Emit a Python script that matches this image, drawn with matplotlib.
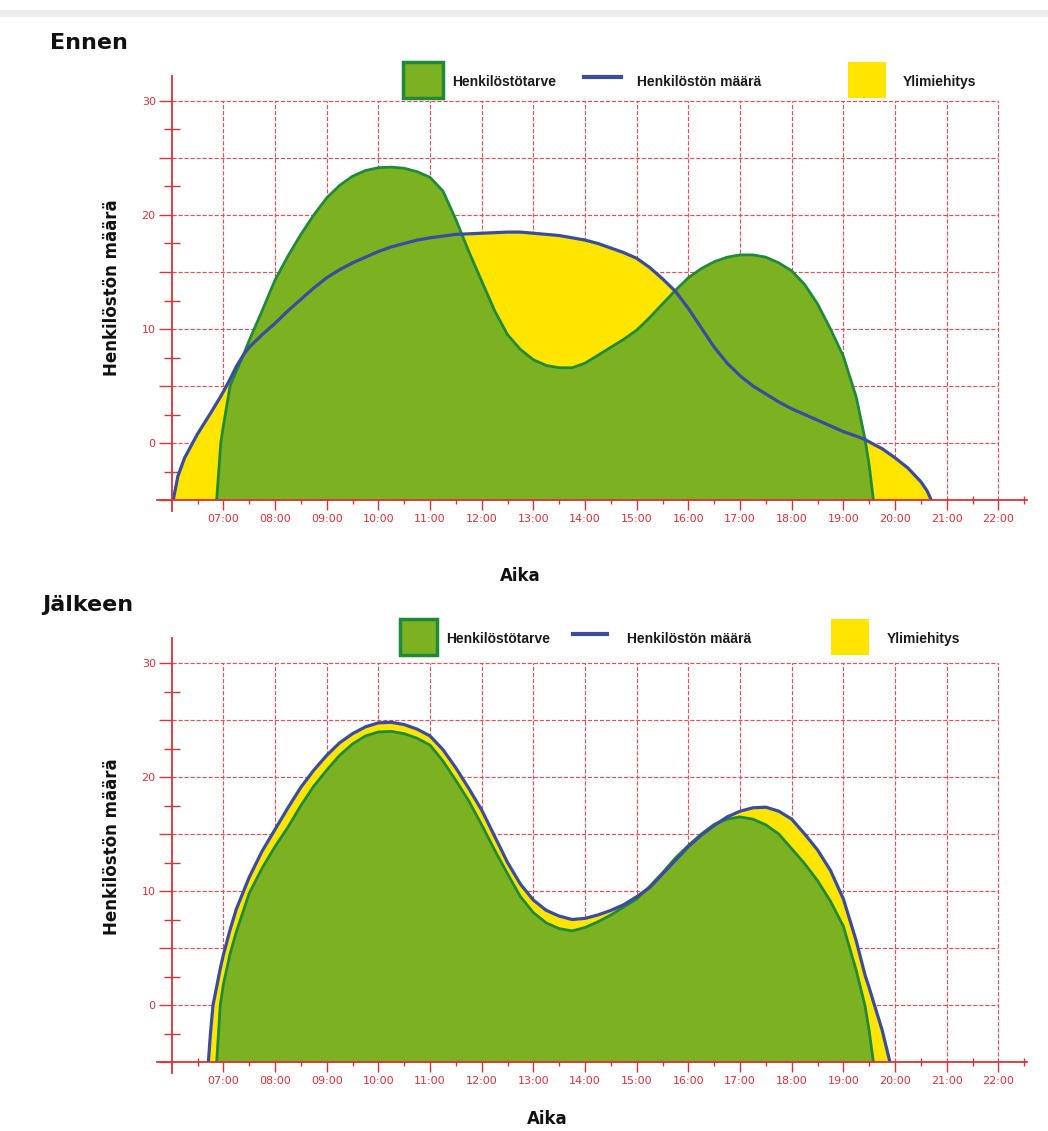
import numpy as np
import matplotlib
matplotlib.use("Agg")
import matplotlib.pyplot as plt
from matplotlib.patches import Rectangle
from matplotlib.lines import Line2D
from matplotlib.ticker import FixedLocator, FuncFormatter

# ---------------- data ----------------
# Ennen (before)
hours_before = [6.03, 6.12, 6.25, 6.5, 6.75, 6.87, 6.95, 7.0, 7.13, 7.25, 7.39, 7.5, 7.75, 8.0, 8.25, 8.5, 8.75,
                9.0, 9.25, 9.5, 9.75, 10.0, 10.25, 10.5, 10.75, 11.0, 11.25, 11.5, 11.75, 12.0,
                12.25, 12.5, 12.75, 13.0, 13.25, 13.5, 13.75, 14.0, 14.25, 14.5, 14.75, 15.0,
                15.25, 15.5, 15.75, 16.0, 16.25, 16.5, 16.75, 17.0, 17.25, 17.5, 17.75, 18.0,
                18.25, 18.5, 18.75, 19.0, 19.25, 19.42, 19.5, 19.58, 19.75, 20.0, 20.25, 20.5, 20.62, 20.7]
demand_before = [-5, -5, -5, -5, -5, -5, 0, 1.5, 5, 6.3, 7.75, 9.0, 11.6, 14.3, 16.4, 18.3, 20.0,
                 21.5, 22.6, 23.4, 23.9, 24.15, 24.2, 24.1, 23.8, 23.3, 22.1, 19.6, 16.8, 14.2,
                 11.6, 9.5, 8.2, 7.3, 6.8, 6.6, 6.6, 7.0, 7.7, 8.4, 9.1, 9.9,
                 11.0, 12.2, 13.4, 14.5, 15.3, 15.9, 16.3, 16.5, 16.5, 16.3, 15.8, 15.1,
                 13.9, 12.2, 10.0, 7.6, 4.0, 0.3, -2.0, -5, -5, -5, -5, -5, -5, -5]
staff_before = [-5, -2.9, -1.3, 0.8, 2.6, 3.5, 4.1, 4.5, 5.6, 6.7, 7.75, 8.4, 9.5, 10.5, 11.6, 12.6, 13.6,
                14.5, 15.2, 15.8, 16.3, 16.8, 17.2, 17.5, 17.8, 18.0, 18.15, 18.3, 18.35, 18.4,
                18.45, 18.5, 18.5, 18.4, 18.3, 18.2, 18.0, 17.8, 17.5, 17.1, 16.7, 16.2,
                15.4, 14.4, 13.3, 11.8, 10.1, 8.4, 7.0, 5.9, 5.0, 4.3, 3.6, 3.0,
                2.5, 2.0, 1.5, 1.0, 0.6, 0.3, 0.1, -0.1, -0.5, -1.3, -2.2, -3.4, -4.2, -5]

# Jälkeen (after)
hours_after = [6.71, 6.75, 6.8, 6.87, 6.94, 7.0, 7.13, 7.25, 7.5, 7.75, 8.0, 8.25, 8.5, 8.75,
               9.0, 9.25, 9.5, 9.75, 10.0, 10.25, 10.5, 10.75, 11.0, 11.25, 11.5, 11.75, 12.0,
               12.25, 12.5, 12.75, 13.0, 13.25, 13.5, 13.75, 14.0, 14.25, 14.5, 14.75, 15.0,
               15.25, 15.5, 15.75, 16.0, 16.25, 16.5, 16.75, 17.0, 17.25, 17.5, 17.75, 18.0,
               18.25, 18.5, 18.75, 19.0, 19.25, 19.42, 19.5, 19.58, 19.75, 19.9]
demand_after = [-5, -5, -5, -5, 0, 1.8, 4.5, 6.4, 9.8, 12.0, 13.9, 15.6, 17.5, 19.2,
                20.6, 21.9, 22.9, 23.6, 23.95, 24.0, 23.8, 23.4, 22.8, 21.4, 19.7, 17.9, 15.8,
                13.6, 11.5, 9.5, 8.1, 7.2, 6.7, 6.5, 6.8, 7.3, 7.9, 8.6, 9.3,
                10.4, 11.6, 12.9, 14.0, 15.0, 15.85, 16.3, 16.5, 16.3, 15.8, 15.0, 13.7,
                12.4, 10.9, 9.1, 6.9, 3.0, -0.1, -2.3, -5, -5, -5]
staff_after = [-5, -2.5, 0, 1.6, 3.2, 4.4, 6.6, 8.4, 11.2, 13.5, 15.4, 17.3, 19.1, 20.6,
               21.9, 23.0, 23.8, 24.4, 24.75, 24.8, 24.6, 24.2, 23.6, 22.4, 20.8, 19.0, 17.1,
               14.8, 12.5, 10.6, 9.2, 8.3, 7.8, 7.5, 7.6, 7.9, 8.3, 8.8, 9.5,
               10.3, 11.5, 12.7, 13.9, 14.9, 15.75, 16.5, 17.0, 17.3, 17.35, 17.0, 16.3,
               15.0, 13.6, 11.8, 9.3, 5.6, 2.6, 1.5, 0.3, -2.2, -5]

hour_ticks = list(range(7, 23))
hour_labels = ["%02d:00" % h for h in hour_ticks]
y_labels = [0, 10, 20, 30]

titles = ["Ennen", "Jälkeen"]
legend_labels = ["Henkilöstötarve", "Henkilöstön määrä", "Ylimiehitys"]
ylabel_text = "Henkilöstön määrä"
xlabel_text = "Aika"

# ---------------- style ----------------
RED = "#d8333a"
GRID = "#df5057"
GREEN_FILL = "#7cb221"
GREEN_EDGE = "#1f8a3a"
BLUE = "#3a4c9e"
YELLOW = "#ffe500"
W, H = 1048, 1131
YMIN, YTOP = -5, 32.2
XMIN, XMAX = 6.0, 22.55

fig = plt.figure(figsize=(W / 100, H / 100), dpi=100)
fig.patch.set_facecolor("white")
# faint screenshot bar at very top
fig.add_artist(Rectangle((0, 1 - 17 / H), 1, 7 / H, transform=fig.transFigure,
                         facecolor="#ececec", edgecolor="none"))


def edge_mask(v):
    v = np.asarray(v, dtype=float)
    m = v > -5
    m2 = m.copy()
    m2[1:] |= m[:-1]
    m2[:-1] |= m[1:]
    return m2


def draw_panel(ax, hours, demand, staff):
    x = np.asarray(hours, dtype=float)
    g = np.asarray(demand, dtype=float)
    b = np.asarray(staff, dtype=float)
    ax.set_xlim(XMIN, XMAX)
    ax.set_ylim(YMIN, YTOP)
    for s in ax.spines.values():
        s.set_visible(False)
    ax.patch.set_alpha(0)

    dash = (0, (3.5, 1.6))
    ax.hlines(list(range(0, 31, 5)), 6, 22, colors=GRID, linewidth=0.85,
              linestyles=[dash], zorder=1)
    ax.vlines(hour_ticks, -5, 30, colors=GRID, linewidth=0.85,
              linestyles=[dash], zorder=1)

    ax.fill_between(x, g, b, where=b > g, interpolate=True, color=YELLOW,
                    linewidth=0, zorder=2)
    ax.fill_between(x, -5, g, color=GREEN_FILL, linewidth=0, zorder=3)
    mg = edge_mask(g)
    ax.plot(x[mg], g[mg], color=GREEN_EDGE, linewidth=2.0, zorder=4,
            solid_capstyle="butt", solid_joinstyle="round")
    mb = edge_mask(b)
    ax.plot(x[mb], b[mb], color=BLUE, linewidth=2.3, zorder=5,
            solid_capstyle="butt", solid_joinstyle="round")

    # axis lines
    ax.plot([5.72, XMAX], [-5, -5], color=RED, linewidth=1.3, clip_on=False, zorder=6)
    ax.plot([6, 6], [-5.95, YTOP], color=RED, linewidth=1.3, clip_on=False, zorder=6)

    ax.xaxis.set_major_locator(FixedLocator(hour_ticks))
    ax.xaxis.set_minor_locator(FixedLocator([h + 0.5 for h in range(6, 23)]))
    ax.set_xticklabels(hour_labels)
    ax.tick_params(axis="x", which="major", direction="out", length=7, width=1,
                   colors=RED, labelsize=8, pad=3)
    ax.tick_params(axis="x", which="minor", direction="inout", length=6, width=1,
                   colors=RED)

    ax.yaxis.set_major_locator(FixedLocator(list(range(-5, 31, 5))))
    ax.yaxis.set_minor_locator(FixedLocator([v + 2.5 for v in range(-5, 30, 5)]))
    ax.yaxis.set_major_formatter(FuncFormatter(
        lambda v, p: ("%d" % v) if int(round(v)) in y_labels else ""))
    ax.tick_params(axis="y", which="major", direction="out", length=9.5, width=1,
                   colors=RED, labelsize=8, pad=2)
    ax.tick_params(axis="y", which="minor", direction="inout", length=11, width=1,
                   colors=RED)
    for lab in ax.get_xticklabels() + ax.get_yticklabels():
        lab.set_color(RED)


px_per_h = 51.67
left = 171.7 / W
width = (XMAX - XMIN) * px_per_h / W
height = (YTOP - YMIN) * 11.4 / H

ax1 = fig.add_axes([left, (H - 500) / H, width, height])
draw_panel(ax1, hours_before, demand_before, staff_before)
ax2 = fig.add_axes([left, (H - 1062) / H, width, height])
draw_panel(ax2, hours_after, demand_after, staff_after)


def fx(px):
    return px / W


def fy(py):
    return 1 - py / H


def legend(y_c, sq1, line, t2, sq3, t1x, t3x):
    sq_h = 36
    fig.add_artist(Rectangle((fx(sq1[0]), fy(y_c + sq_h / 2)), (sq1[1] - sq1[0]) / W, sq_h / H,
                             transform=fig.transFigure, facecolor=GREEN_FILL,
                             edgecolor=GREEN_EDGE, linewidth=2.5))
    fig.text(fx(t1x), fy(y_c + 2), legend_labels[0], fontsize=10, fontweight="bold",
             family="Liberation Sans", color="#1a1a1a", va="center", ha="left")
    fig.add_artist(Line2D([fx(line[0]), fx(line[1])], [fy(y_c - 3), fy(y_c - 3)],
                          transform=fig.transFigure, color=BLUE, linewidth=3))
    fig.text(fx(t2), fy(y_c + 2), legend_labels[1], fontsize=10, fontweight="bold",
             family="Liberation Sans", color="#1a1a1a", va="center", ha="left")
    fig.add_artist(Rectangle((fx(sq3[0]), fy(y_c + sq_h / 2)), (sq3[1] - sq3[0]) / W, sq_h / H,
                             transform=fig.transFigure, facecolor=YELLOW,
                             edgecolor="none"))
    fig.text(fx(t3x), fy(y_c + 2), legend_labels[2], fontsize=10, fontweight="bold",
             family="Liberation Sans", color="#1a1a1a", va="center", ha="left")


legend(80, (403, 443), (584, 621), 637, (848, 886), 452, 903)
legend(637, (400, 437), (573, 607), 627, (831, 869), 446, 887)

fig.text(fx(50), fy(43), titles[0], fontsize=16, fontweight="bold", va="center", ha="left",
         color="#111111")
fig.text(fx(42), fy(605), titles[1], fontsize=16, fontweight="bold", va="center", ha="left",
         color="#111111")

fig.text(fx(112), fy(288), ylabel_text, fontsize=12, fontweight="bold", rotation=90,
         va="center", ha="center", color="#111111")
fig.text(fx(112), fy(847), ylabel_text, fontsize=12, fontweight="bold", rotation=90,
         va="center", ha="center", color="#111111")

fig.text(fx(520), fy(576), xlabel_text, fontsize=12, fontweight="bold", va="center",
         ha="center", color="#111111")
fig.text(fx(547), fy(1119), xlabel_text, fontsize=12, fontweight="bold", va="center",
         ha="center", color="#111111")

fig.savefig("out.png", dpi=100, facecolor="white")
